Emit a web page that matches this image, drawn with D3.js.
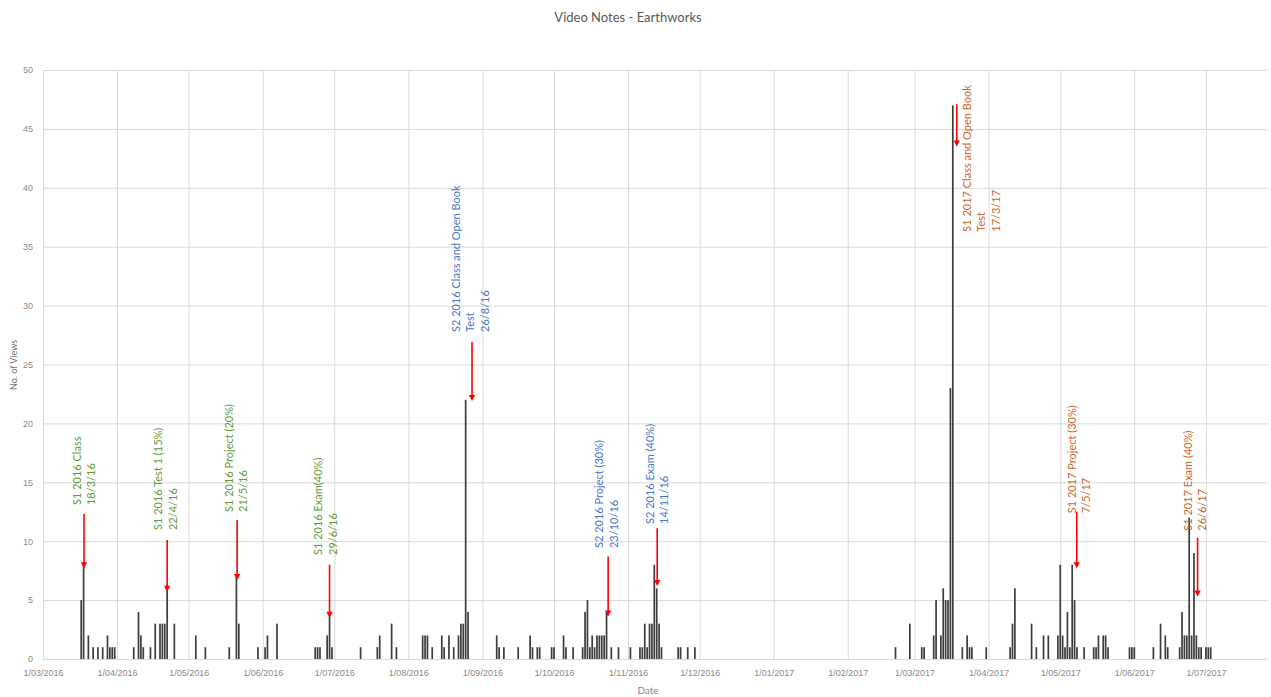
<!DOCTYPE html>
<html>
<head>
<meta charset="utf-8">
<script src="https://cdn.jsdelivr.net/npm/d3@7"></script>
<style>
  html, body { margin: 0; padding: 0; background: #fff; }
  svg { display: block; font-family: Lato, "Noto Sans", sans-serif; }
</style>
</head>
<body>
<svg id="chart" width="1271" height="697"></svg>
<script>
// ---------- DATA ----------
const chartTitle = "Video Notes - Earthworks";
const yAxisTitle = "No. of Views";
const xAxisTitle = "Date";

const viewDates = [
  "2016-03-17","2016-03-18","2016-03-20","2016-03-22","2016-03-24","2016-03-26","2016-03-28","2016-03-29","2016-03-30","2016-03-31",
  "2016-04-08","2016-04-10","2016-04-11","2016-04-12","2016-04-15","2016-04-17","2016-04-19","2016-04-20","2016-04-21","2016-04-22","2016-04-25",
  "2016-05-04","2016-05-08","2016-05-18","2016-05-21","2016-05-22","2016-05-30",
  "2016-06-02","2016-06-03","2016-06-07","2016-06-23","2016-06-24","2016-06-25","2016-06-28","2016-06-29","2016-06-30",
  "2016-07-12","2016-07-19","2016-07-20","2016-07-25","2016-07-27",
  "2016-08-07","2016-08-08","2016-08-09","2016-08-11","2016-08-15","2016-08-16","2016-08-18","2016-08-20","2016-08-22","2016-08-23","2016-08-24","2016-08-25","2016-08-26",
  "2016-09-07","2016-09-08","2016-09-10","2016-09-16","2016-09-21","2016-09-22","2016-09-24","2016-09-25","2016-09-30",
  "2016-10-01","2016-10-05","2016-10-06","2016-10-09","2016-10-13","2016-10-14","2016-10-15","2016-10-16","2016-10-17","2016-10-18","2016-10-19","2016-10-20","2016-10-21","2016-10-22","2016-10-23","2016-10-25","2016-10-28",
  "2016-11-02","2016-11-06","2016-11-07","2016-11-08","2016-11-09","2016-11-10","2016-11-11","2016-11-12","2016-11-13","2016-11-14","2016-11-15","2016-11-22","2016-11-23","2016-11-26","2016-11-29",
  "2017-02-21","2017-02-27",
  "2017-03-04","2017-03-05","2017-03-09","2017-03-10","2017-03-12","2017-03-13","2017-03-14","2017-03-15","2017-03-16","2017-03-17","2017-03-21","2017-03-23","2017-03-24","2017-03-25","2017-03-31",
  "2017-04-10","2017-04-11","2017-04-12","2017-04-19","2017-04-21","2017-04-24","2017-04-26","2017-04-30",
  "2017-05-01","2017-05-02","2017-05-03","2017-05-04","2017-05-05","2017-05-06","2017-05-07","2017-05-08","2017-05-11","2017-05-15","2017-05-16","2017-05-17","2017-05-19","2017-05-20","2017-05-21","2017-05-30","2017-05-31",
  "2017-06-01","2017-06-09","2017-06-12","2017-06-14","2017-06-15","2017-06-20","2017-06-21","2017-06-22","2017-06-23","2017-06-24","2017-06-25","2017-06-26","2017-06-27","2017-06-28","2017-06-29",
  "2017-07-01","2017-07-02","2017-07-03"
];
const viewCounts = [
  5,8,2,1,1,1,2,1,1,1,
  1,4,2,1,1,3,3,3,3,6,3,
  2,1,1,7,3,1,
  1,2,3,1,1,1,2,4,1,
  1,1,2,3,1,
  2,2,2,1,2,1,2,1,2,3,3,22,4,
  2,1,1,1,2,1,1,1,1,
  1,2,1,1,1,4,5,1,2,1,2,2,2,2,4,1,1,
  1,1,1,3,1,3,3,8,6,3,1,1,1,1,1,
  1,3,
  1,1,2,5,2,6,5,5,23,47,1,2,1,1,1,
  1,3,6,3,1,2,2,2,
  8,2,1,4,1,8,5,1,1,1,1,2,2,2,1,1,1,
  1,1,3,2,1,1,4,2,2,12,2,9,2,1,1,
  1,1,1
];

const yTickValues = [0,5,10,15,20,25,30,35,40,45,50];

// annotations (values in data units: dates on x, views on y)
const annLines = [
  ["S1 2016 Class","18/3/16"],
  ["S1 2016 Test 1 (15%)","22/4/16"],
  ["S1 2016 Project (20%)","21/5/16"],
  ["S1 2016 Exam(40%)","29/6/16"],
  ["S2 2016 Class and Open Book","Test","26/8/16"],
  ["S2 2016 Project (30%)","23/10/16"],
  ["S2 2016 Exam (40%)","14/11/16"],
  ["S1 2017 Class and Open Book","Test","17/3/17"],
  ["S1 2017 Project (30%)","7/5/17"],
  ["S1 2017 Exam (40%)","26/6/17"]
];
const annGroup = ["S1 2016","S1 2016","S1 2016","S1 2016","S2 2016","S2 2016","S2 2016","S1 2017","S1 2017","S1 2017"];
const annArrowDate = ["2016-03-18T04:00Z","2016-04-22T00:00Z","2016-05-21T07:00Z","2016-06-29T00:00Z","2016-08-27T16:00Z","2016-10-23T16:00Z","2016-11-13T05:00Z","2017-03-18T16:00Z","2017-05-07T22:00Z","2017-06-27T12:00Z"];
const annArrowTop = [12.3,10.1,11.8,8.0,26.9,8.7,11.1,47.1,12.5,10.3];
const annArrowTip = [7.7,5.7,6.7,3.5,21.9,3.6,6.2,43.5,7.7,5.3];
const annTextDate = ["2016-03-18T04:00Z","2016-04-21T08:00Z","2016-05-21T00:00Z","2016-06-27T10:00Z","2016-08-27T02:00Z","2016-10-23T00:00Z","2016-11-13T08:00Z","2017-03-29T00:00Z","2017-05-08T23:00Z","2017-06-26T14:00Z"];
const annTextBase = [13.07,10.95,12.48,8.83,27.76,9.42,11.46,36.27,12.37,10.89];

// ---------- STYLE ----------
const groupColor = d3.scaleOrdinal()
  .domain(["S1 2016","S2 2016","S1 2017"])
  .range(["#5f9c3a","#4a76c6","#c9682c"]);

const svg = d3.select("#chart");
const W = 1271, H = 697;
const margin = {left: 43, right: 3, top: 70, bottom: 38};
const plotBottom = H - margin.bottom; // 659
const plotRight = W - margin.right;

const parseDay = d3.utcParse("%Y-%m-%d");
const bars = viewDates.map((d, i) => ({date: parseDay(d), value: viewCounts[i]}));

const x = d3.scaleUtc()
  .domain([parseDay("2016-03-01"), parseDay("2017-07-27")])
  .range([margin.left, plotRight]);
const y = d3.scaleLinear().domain([0, 50]).range([plotBottom, margin.top]);

// gridlines & axes
const xAxis = d3.axisBottom(x)
  .tickValues(d3.utcMonth.range(parseDay("2016-03-01"), parseDay("2017-07-02")))
  .tickFormat(d3.utcFormat("%-d/%m/%Y"))
  .tickSizeInner(-(plotBottom - margin.top))
  .tickSizeOuter(0)
  .tickPadding(11);
const gx = svg.append("g").attr("transform", `translate(0,${plotBottom})`).call(xAxis);
gx.select(".domain").remove();
gx.selectAll("line").attr("stroke", "#d9d9d9").attr("stroke-width", 1);
gx.selectAll("text").attr("fill", "#8a8a8a").style("font-size", "9px");

const yAxis = d3.axisLeft(y)
  .tickValues(yTickValues)
  .tickSizeInner(-(plotRight - margin.left))
  .tickSizeOuter(0)
  .tickPadding(10);
const gy = svg.append("g").attr("transform", `translate(${margin.left},0)`).call(yAxis);
gy.select(".domain").remove();
gy.selectAll("line").attr("stroke", "#d9d9d9").attr("stroke-width", 1);
gy.selectAll("text").attr("fill", "#8a8a8a").style("font-size", "9px");

// bars
const barW = 1.7;
svg.append("g").selectAll("rect").data(bars).join("rect")
  .attr("x", d => x(d.date) - barW / 2)
  .attr("width", barW)
  .attr("y", d => y(d.value))
  .attr("height", d => y(0) - y(d.value))
  .attr("fill", "#3c3c3c");

// titles
svg.append("text").attr("x", 628).attr("y", 22).attr("text-anchor", "middle")
  .attr("fill", "#595959").style("font-size", "13px").text(chartTitle);
svg.append("text").attr("transform", `translate(17,365) rotate(-90)`)
  .attr("text-anchor", "middle").attr("fill", "#6f6f6f").style("font-size", "9px").text(yAxisTitle);
svg.append("text").attr("x", 648).attr("y", 694).attr("text-anchor", "middle")
  .attr("fill", "#8a8a8a").style("font-size", "10px").text(xAxisTitle);

// annotations
const lineGap = 14.3;
const annG = svg.append("g");
annLines.forEach((lines, i) => {
  const color = groupColor(annGroup[i]);
  const tx = x(d3.isoParse(annTextDate[i]));
  const ty = y(annTextBase[i]);
  const n = lines.length;
  lines.forEach((ln, j) => {
    const lx = tx + (j - (n - 1) / 2) * lineGap;
    annG.append("text")
      .attr("transform", `translate(${lx},${ty}) rotate(-90)`)
      .attr("dy", "0.35em")
      .attr("text-anchor", "start")
      .attr("fill", color)
      .style("font-size", "11px")
      .text(ln);
  });
  const ax = x(d3.isoParse(annArrowDate[i]));
  const yTop = y(annArrowTop[i]);
  const yTip = y(annArrowTip[i]);
  const head = 6;
  annG.append("line")
    .attr("x1", ax).attr("x2", ax)
    .attr("y1", yTop).attr("y2", yTip - head + 1)
    .attr("stroke", "#ff0000").attr("stroke-width", 1.6);
  annG.append("path")
    .attr("d", `M${ax - 3.2},${yTip - head} L${ax + 3.2},${yTip - head} L${ax},${yTip} Z`)
    .attr("fill", "#ff0000");
});
</script>
</body>
</html>
